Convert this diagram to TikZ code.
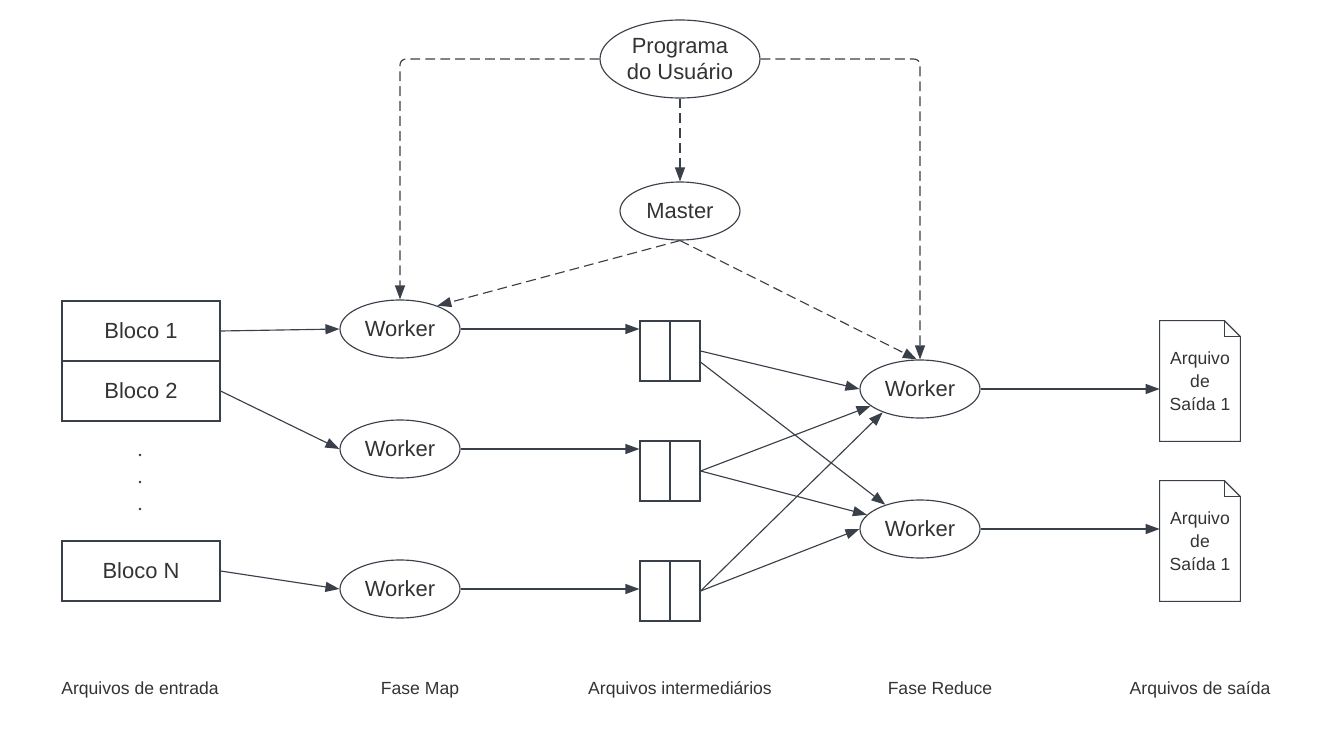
\documentclass[tikz,border=0pt]{standalone}
\usepackage{fontspec}
\setmainfont{Liberation Sans}
\usetikzlibrary{arrows.meta,shapes.geometric}
\definecolor{lin}{RGB}{58, 64, 74}
\definecolor{txt}{RGB}{51, 51, 51}
\tikzset{
  conn/.style={draw=lin, line width=0.65pt, -{Triangle[length=0.28cm,width=0.2cm]}},
  dashconn/.style={conn, dash pattern=on 5.6pt off 2.9pt, rounded corners=0.12cm},
  proc/.style={ellipse, draw=lin, line width=0.65pt, inner sep=0pt, text=txt,
    minimum width=2.4cm, minimum height=1.16cm, font=\fontsize{12.5}{15}\selectfont},
  bloco/.style={rectangle, draw=lin, line width=0.65pt, inner sep=0pt, text=txt,
    minimum width=3.16cm, minimum height=1.2cm, font=\fontsize{12.5}{15}\selectfont},
  inter/.style={rectangle, draw=lin, line width=0.65pt, inner sep=0pt,
    minimum width=1.2cm, minimum height=1.2cm},
  docnode/.style={rectangle, inner sep=0pt, text=txt, align=center,
    minimum width=1.6cm, minimum height=2.4cm, font=\fontsize{10}{13}\selectfont},
  rotulo/.style={text=txt, anchor=base, font=\fontsize{10}{12}\selectfont}
}

\begin{document}
\begin{tikzpicture}[x=0.02cm, y=-0.02cm]
      \useasboundingbox (0, 0) rectangle (1340, 740);
      % programa e master
      \node[proc, minimum width=3.2cm, minimum height=1.56cm, align=center] (prog) at (680, 59) {Programa\\do Usuário};
      \node[proc] (master) at (680, 211) {Master};
      % arquivos de entrada
      \node[bloco] (b1) at (141, 331) {Bloco 1};
      \node[bloco] (b2) at (141, 391) {Bloco 2};
      \node[bloco] (bn) at (141, 571) {Bloco N};
      \foreach \y in {455, 482, 509}
        \fill[txt] (140, \y) circle (0.8pt);
      % fase map
      \node[proc] (w1) at (400, 329) {Worker};
      \node[proc] (w2) at (400, 449) {Worker};
      \node[proc] (w3) at (400, 589) {Worker};
      % arquivos intermediarios
      \node[inter] (i1) at (670, 351) {};
      \node[inter] (i2) at (670, 471) {};
      \node[inter] (i3) at (670, 591) {};
      \foreach \n in {i1, i2, i3}
        \draw[lin, line width=0.65pt] (\n.north) -- (\n.south);
      % fase reduce
      \node[proc] (r1) at (920, 389) {Worker};
      \node[proc] (r2) at (920, 529) {Worker};
      % arquivos de saida
      \node[docnode] (s1) at (1200, 381) {Arquivo\\de\\Saída 1};
      \node[docnode] (s2) at (1200, 541) {Arquivo\\de\\Saída 1};
      \foreach \n in {s1, s2} {
        \draw[lin, line width=0.65pt] (\n.north west) -- ([xshift=-0.32cm]\n.north east)
          -- ([yshift=-0.32cm]\n.north east) -- (\n.south east) -- (\n.south west) -- cycle;
        \draw[lin, line width=0.65pt] ([xshift=-0.32cm]\n.north east)
          -- ([xshift=-0.32cm, yshift=-0.32cm]\n.north east) -- ([yshift=-0.32cm]\n.north east);
      }
      % controle
      \draw[dashconn] (prog.west) -| (w1.north);
      \draw[dashconn] (prog.east) -| (r1.north);
      \draw[dashconn] (prog.south) -- (master.north);
      \draw[dashconn] (master.south) -- (w1.32);
      \draw[dashconn] (master.south) -- (r1.96);
      % fluxo de dados
      \draw[conn] (b1.east) -- (w1.west);
      \draw[conn] (b2.east) -- (w2.west);
      \draw[conn] (bn.east) -- (w3.west);
      \draw[conn] (w1.east) -- (w1.east -| i1.west);
      \draw[conn] (w2.east) -- (w2.east -| i2.west);
      \draw[conn] (w3.east) -- (w3.east -| i3.west);
      \draw[conn] (i1.east) -- (r1.west);
      \draw[conn] (i1.-20) -- (r2.145);
      \draw[conn] (i2.east) -- (r1.199);
      \draw[conn] (i2.east) -- (r2.165);
      \draw[conn] (i3.east) -- (r1.212);
      \draw[conn] (i3.east) -- (r2.west);
      \draw[conn] (r1.east) -- (r1.east -| s1.west);
      \draw[conn] (r2.east) -- (r2.east -| s2.west);
      % rotulos
      \node[rotulo] (l1) at (140, 694) {Arquivos de entrada};
      \node[rotulo] (l2) at (420, 694) {Fase Map};
      \node[rotulo] (l3) at (680, 694) {Arquivos intermediários};
      \node[rotulo] (l4) at (940, 694) {Fase Reduce};
      \node[rotulo] (l5) at (1200, 694) {Arquivos de saída};
    \end{tikzpicture}
\end{document}
